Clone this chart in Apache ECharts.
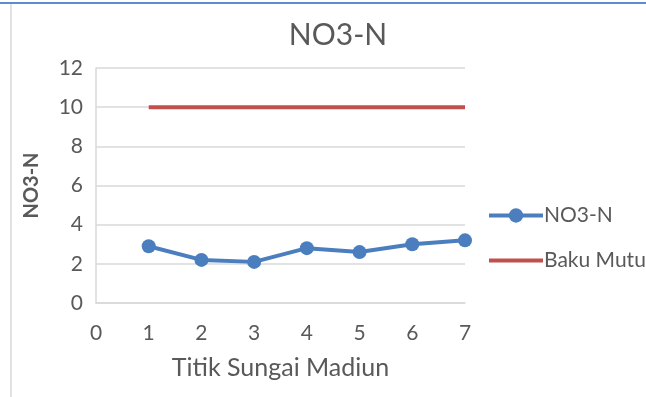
<!DOCTYPE html>
<html>
<head>
<meta charset="utf-8">
<script src="https://cdn.jsdelivr.net/npm/echarts@6/dist/echarts.min.js"></script>
<style>
  html, body { margin: 0; padding: 0; background: #fff; }
  #chart { width: 646px; height: 397px; }
</style>
</head>
<body>
<div id="chart"></div>
<script>
// Sampling points along the Madiun river
const titik = [1, 2, 3, 4, 5, 6, 7];
// Measured nitrate-nitrogen (mg/L)
const no3n = [2.9, 2.2, 2.1, 2.8, 2.6, 3.0, 3.2];
// Quality standard threshold
const bakuMutu = [10, 10, 10, 10, 10, 10, 10];

const FONT = 'Lato, "Open Sans", sans-serif';
const TEXT = '#595959';
const BLUE = '#4a7ebf';
const RED = '#c0504d';

const chart = echarts.init(document.getElementById('chart'));
chart.setOption({
  animation: false,
  title: {
    text: 'NO3-N',
    left: 333, top: 15, textAlign: 'center',
    textStyle: { fontFamily: FONT, fontSize: 30, fontWeight: 'normal', color: TEXT }
  },
  graphic: [
    { type: 'line', shape: { x1: 0, y1: 3, x2: 646, y2: 3 }, style: { stroke: '#5b8bd0', lineWidth: 2 } },
    { type: 'line', shape: { x1: 11, y1: 4, x2: 11, y2: 397 }, style: { stroke: '#d9d9d9', lineWidth: 1.5 } }
  ],
  legend: {
    orient: 'vertical',
    left: 482, top: 200,
    itemGap: 24,
    itemWidth: 54, itemHeight: 18,
    textStyle: { fontFamily: FONT, fontSize: 21, color: TEXT, padding: [0, 0, 0, -4] },
    data: [
      { name: 'NO3-N', lineStyle: { width: 4 } },
      { name: 'Baku Mutu', itemStyle: { opacity: 0 }, lineStyle: { width: 4 } }
    ]
  },
  grid: { left: 96, right: 181, top: 68, bottom: 94, containLabel: false },
  xAxis: {
    type: 'value', min: 0, max: 7, interval: 1,
    name: 'Titik Sungai Madiun', nameLocation: 'middle', nameGap: 52,
    nameTextStyle: { fontFamily: FONT, fontSize: 25, color: TEXT },
    axisLine: { lineStyle: { color: '#d9d9d9', width: 1.5 } },
    axisTick: { show: false },
    splitLine: { show: false },
    axisLabel: { fontFamily: FONT, fontSize: 21, color: TEXT, margin: 20 }
  },
  yAxis: {
    type: 'value', min: 0, max: 12, interval: 2,
    name: 'NO3-N', nameLocation: 'middle', nameGap: 54, nameRotate: 90,
    nameTextStyle: { fontFamily: FONT, fontSize: 20, fontWeight: 'bold', color: TEXT },
    axisLine: { show: true, lineStyle: { color: '#d9d9d9', width: 1.5 } },
    axisTick: { show: false },
    splitLine: { lineStyle: { color: '#d9d9d9', width: 1.5 } },
    axisLabel: { fontFamily: FONT, fontSize: 21, color: TEXT, margin: 13 }
  },
  series: [
    {
      name: 'NO3-N', type: 'line',
      data: titik.map((x, i) => [x, no3n[i]]),
      symbol: 'circle', symbolSize: 14,
      itemStyle: { color: BLUE },
      lineStyle: { color: BLUE, width: 4 }
    },
    {
      name: 'Baku Mutu', type: 'line',
      data: titik.map((x, i) => [x, bakuMutu[i]]),
      symbol: 'none',
      itemStyle: { color: RED },
      lineStyle: { color: RED, width: 4 }
    }
  ]
});
</script>
</body>
</html>
